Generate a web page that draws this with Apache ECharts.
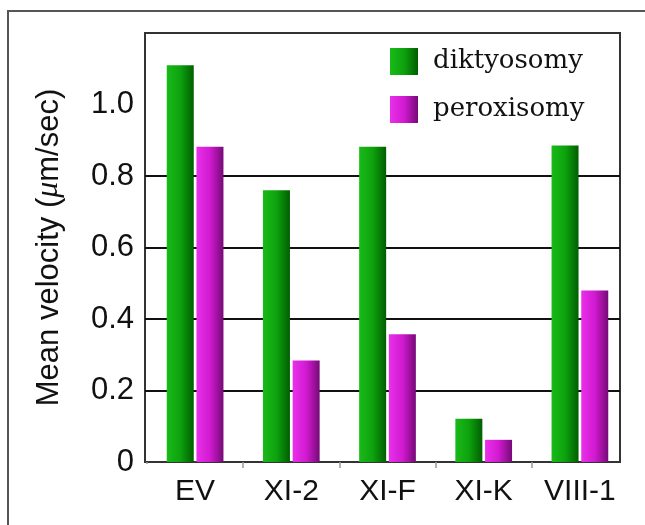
<!DOCTYPE html>
<html>
<head>
<meta charset="utf-8">
<script src="https://cdn.jsdelivr.net/npm/echarts@6/dist/echarts.min.js"></script>
<style>html,body{margin:0;padding:0;background:#fff}#c{width:645px;height:525px}</style>
</head>
<body>
<div id="c"></div>
<script>
var categories = ['EV', 'XI-2', 'XI-F', 'XI-K', 'VIII-1'];
var diktyosomy = [1.11, 0.76, 0.882, 0.121, 0.885];
var peroxisomy = [0.882, 0.284, 0.357, 0.062, 0.48];
var seriesNames = ['diktyosomy', 'peroxisomy'];
var yTicks = [0, 0.2, 0.4, 0.6, 0.8, 1.0];
var yTitle = '{a|Mean velocity (}{b|\u03bc}{a|m/sec)}';

var chart = echarts.init(document.getElementById('c'), null, {renderer: 'canvas'});

function grad(c0, c1, c2) {
  return new echarts.graphic.LinearGradient(0, 0, 1, 0, [
    {offset: 0, color: c0}, {offset: 0.5, color: c1}, {offset: 1, color: c2}
  ]);
}
var green = grad('#18ba18', '#0ea20e', '#005f00');
var magenta = grad('#ea30ea', '#d21ad2', '#760a76');

var option = {
  animation: false,
  backgroundColor: '#fff',
  graphic: [
    {type: 'rect', shape: {x: 8, y: 11, width: 700, height: 600},
     style: {fill: 'none', stroke: '#555', lineWidth: 2}, silent: true, z: 0},
    {type: 'rect', shape: {x: 623, y: 461, width: 14, height: 13},
     style: {fill: '#fff'}, silent: true, z: 100},
    {type: 'rect', shape: {x: 141, y: 464, width: 12, height: 10},
     style: {fill: '#fff'}, silent: true, z: 100}
  ],
  legend: {
    orient: 'vertical', left: 385, top: 43,
    itemWidth: 28, itemHeight: 27, itemGap: 21,
    icon: 'rect',
    textStyle: {fontFamily: 'DejaVu Serif', fontSize: 26, color: '#111', padding: [0, 0, 0, 10]},
    data: seriesNames
  },
  grid: [
    {left: 145, right: 25, top: 33, bottom: 63, show: true, borderColor: '#333', borderWidth: 2, backgroundColor: 'transparent', containLabel: false},
    {left: 147, right: 17, top: 33, bottom: 63, containLabel: false}
  ],
  xAxis: [
    {type: 'value', gridIndex: 0, show: false, min: 0, max: 1},
    {
      type: 'category', gridIndex: 1, data: categories,
      axisLine: {show: false},
      axisTick: {show: true, length: 6, lineStyle: {color: '#999', width: 1.5}},
      axisLabel: {fontFamily: 'Liberation Sans', fontSize: 30, color: '#111', margin: 15}
    }
  ],
  yAxis: [
    {
      type: 'value', gridIndex: 0, min: 0, max: 1.2, interval: 0.2,
      name: yTitle, nameLocation: 'middle', nameGap: 80,
      nameTextStyle: {
        fontFamily: 'Liberation Sans', fontSize: 31, color: '#111',
        rich: {
          a: {fontFamily: 'Liberation Sans', fontSize: 31, color: '#111'},
          b: {fontFamily: 'Liberation Serif', fontStyle: 'italic', fontSize: 32, color: '#111'}
        }
      },
      axisLine: {show: false},
      axisTick: {show: false},
      axisLabel: {
        fontFamily: 'Liberation Sans', fontSize: 31, color: '#111', margin: 11,
        showMaxLabel: false,
        formatter: function (v) {
          if (yTicks.indexOf(Math.round(v * 10) / 10) < 0) return '';
          return v === 0 ? '0' : v.toFixed(1);
        }
      },
      splitLine: {
        show: true, showMinLine: false, showMaxLine: false,
        lineStyle: {color: ['#111', '#111', '#111', '#111', 'rgba(0,0,0,0)'], width: 2}
      }
    },
    {type: 'value', gridIndex: 1, show: false, min: 0, max: 1.2, splitLine: {show: false}}
  ],
  series: [
    {
      name: seriesNames[0], type: 'bar', xAxisIndex: 1, yAxisIndex: 1,
      data: diktyosomy, barWidth: 27, barGap: '10%',
      itemStyle: {color: green}, z: 3
    },
    {
      name: seriesNames[1], type: 'bar', xAxisIndex: 1, yAxisIndex: 1,
      data: peroxisomy, barWidth: 27, barGap: '10%',
      itemStyle: {color: magenta}, z: 3
    }
  ]
};
chart.setOption(option);
</script>
</body>
</html>
